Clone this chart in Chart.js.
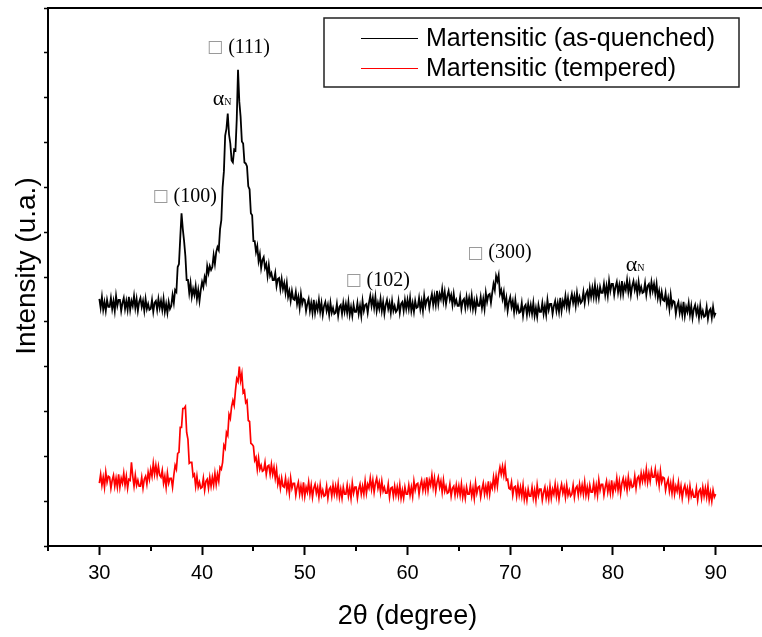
<!DOCTYPE html>
<html>
<head>
<meta charset="utf-8">
<script src="https://cdn.jsdelivr.net/npm/chart.js@4.4.0/dist/chart.umd.min.js"></script>
<style>
  html, body { margin: 0; padding: 0; background: #fff; overflow: hidden; }
  #wrap { width: 775px; height: 637px; position: relative; }
</style>
</head>
<body>
<div id="wrap"><canvas id="xrd" width="775" height="637"></canvas></div>
<script>
// Scan angles (2θ, degrees), one row per degree
const twoTheta = [
  30,30.125,30.25,30.375,30.5,30.625,30.75,30.875,
  31,31.125,31.25,31.375,31.5,31.625,31.75,31.875,
  32,32.125,32.25,32.375,32.5,32.625,32.75,32.875,
  33,33.125,33.25,33.375,33.5,33.625,33.75,33.875,
  34,34.125,34.25,34.375,34.5,34.625,34.75,34.875,
  35,35.125,35.25,35.375,35.5,35.625,35.75,35.875,
  36,36.125,36.25,36.375,36.5,36.625,36.75,36.875,
  37,37.125,37.25,37.375,37.5,37.625,37.75,37.875,
  38,38.125,38.25,38.375,38.5,38.625,38.75,38.875,
  39,39.125,39.25,39.375,39.5,39.625,39.75,39.875,
  40,40.125,40.25,40.375,40.5,40.625,40.75,40.875,
  41,41.125,41.25,41.375,41.5,41.625,41.75,41.875,
  42,42.125,42.25,42.375,42.5,42.625,42.75,42.875,
  43,43.125,43.25,43.375,43.5,43.625,43.75,43.875,
  44,44.125,44.25,44.375,44.5,44.625,44.75,44.875,
  45,45.125,45.25,45.375,45.5,45.625,45.75,45.875,
  46,46.125,46.25,46.375,46.5,46.625,46.75,46.875,
  47,47.125,47.25,47.375,47.5,47.625,47.75,47.875,
  48,48.125,48.25,48.375,48.5,48.625,48.75,48.875,
  49,49.125,49.25,49.375,49.5,49.625,49.75,49.875,
  50,50.125,50.25,50.375,50.5,50.625,50.75,50.875,
  51,51.125,51.25,51.375,51.5,51.625,51.75,51.875,
  52,52.125,52.25,52.375,52.5,52.625,52.75,52.875,
  53,53.125,53.25,53.375,53.5,53.625,53.75,53.875,
  54,54.125,54.25,54.375,54.5,54.625,54.75,54.875,
  55,55.125,55.25,55.375,55.5,55.625,55.75,55.875,
  56,56.125,56.25,56.375,56.5,56.625,56.75,56.875,
  57,57.125,57.25,57.375,57.5,57.625,57.75,57.875,
  58,58.125,58.25,58.375,58.5,58.625,58.75,58.875,
  59,59.125,59.25,59.375,59.5,59.625,59.75,59.875,
  60,60.125,60.25,60.375,60.5,60.625,60.75,60.875,
  61,61.125,61.25,61.375,61.5,61.625,61.75,61.875,
  62,62.125,62.25,62.375,62.5,62.625,62.75,62.875,
  63,63.125,63.25,63.375,63.5,63.625,63.75,63.875,
  64,64.125,64.25,64.375,64.5,64.625,64.75,64.875,
  65,65.125,65.25,65.375,65.5,65.625,65.75,65.875,
  66,66.125,66.25,66.375,66.5,66.625,66.75,66.875,
  67,67.125,67.25,67.375,67.5,67.625,67.75,67.875,
  68,68.125,68.25,68.375,68.5,68.625,68.75,68.875,
  69,69.125,69.25,69.375,69.5,69.625,69.75,69.875,
  70,70.125,70.25,70.375,70.5,70.625,70.75,70.875,
  71,71.125,71.25,71.375,71.5,71.625,71.75,71.875,
  72,72.125,72.25,72.375,72.5,72.625,72.75,72.875,
  73,73.125,73.25,73.375,73.5,73.625,73.75,73.875,
  74,74.125,74.25,74.375,74.5,74.625,74.75,74.875,
  75,75.125,75.25,75.375,75.5,75.625,75.75,75.875,
  76,76.125,76.25,76.375,76.5,76.625,76.75,76.875,
  77,77.125,77.25,77.375,77.5,77.625,77.75,77.875,
  78,78.125,78.25,78.375,78.5,78.625,78.75,78.875,
  79,79.125,79.25,79.375,79.5,79.625,79.75,79.875,
  80,80.125,80.25,80.375,80.5,80.625,80.75,80.875,
  81,81.125,81.25,81.375,81.5,81.625,81.75,81.875,
  82,82.125,82.25,82.375,82.5,82.625,82.75,82.875,
  83,83.125,83.25,83.375,83.5,83.625,83.75,83.875,
  84,84.125,84.25,84.375,84.5,84.625,84.75,84.875,
  85,85.125,85.25,85.375,85.5,85.625,85.75,85.875,
  86,86.125,86.25,86.375,86.5,86.625,86.75,86.875,
  87,87.125,87.25,87.375,87.5,87.625,87.75,87.875,
  88,88.125,88.25,88.375,88.5,88.625,88.75,88.875,
  89,89.125,89.25,89.375,89.5,89.625,89.75,89.875,
  90
];

// Intensity, as-quenched martensite (offset trace, arbitrary units)
const asQuenched = [
  248,239,250,237,245,236,247,240,
  240,249,238,246,236,251,241,247,
  247,236,244,249,238,246,237,250,
  237,246,241,251,239,248,236,245,
  249,240,246,236,248,238,243,237,
  238,247,235,244,246,237,248,239,
  246,237,248,235,243,234,245,238,
  241,252,244,257,255,280,283,309,
  334,318,306,291,267,267,254,264,
  250,258,252,261,248,257,246,257,
  265,260,270,265,281,274,281,277,
  280,292,283,295,300,297,318,327,
  360,376,412,419,434,413,404,387,
  385,398,397,428,478,446,431,406,
  404,385,384,381,361,358,334,332,
  306,306,295,301,286,293,279,287,
  290,279,283,271,282,271,274,267,
  267,274,261,268,269,258,268,258,
  264,254,264,250,256,246,256,248,
  247,255,243,250,239,253,243,248,
  247,236,243,248,236,244,234,247,
  234,243,237,247,235,244,232,241,
  245,236,242,232,244,234,239,233,
  234,243,231,240,242,233,244,235,
  243,234,245,232,240,231,242,235,
  235,244,233,241,231,246,236,242,
  243,234,244,251,241,249,239,250,
  236,244,238,248,236,245,233,242,
  247,238,244,234,246,236,241,235,
  237,246,234,243,245,236,247,238,
  247,238,249,236,244,235,246,239,
  240,249,238,246,236,251,241,247,
  249,239,247,253,242,251,242,256,
  243,253,248,258,246,255,243,251,
  256,247,252,242,253,243,247,241,
  241,250,238,246,248,239,250,241,
  249,240,251,238,246,237,248,241,
  241,250,239,248,238,254,245,252,
  253,244,254,263,257,271,266,272,
  253,257,248,255,241,249,236,245,
  250,240,246,235,247,236,241,234,
  235,244,231,240,242,232,243,234,
  242,233,244,231,239,230,242,235,
  235,244,233,241,232,247,237,243,
  243,233,241,246,236,244,235,249,
  236,246,241,251,240,249,238,247,
  253,244,251,241,254,244,250,244,
  246,255,244,253,256,247,259,250,
  259,250,262,249,258,249,260,254,
  254,263,252,261,251,266,256,263,
  263,252,260,265,254,262,253,266,
  253,262,257,267,255,264,252,261,
  266,257,263,253,265,255,260,254,
  255,264,252,261,263,254,265,256,
  263,253,263,249,256,246,255,247,
  246,254,242,249,238,252,241,246,
  245,233,241,245,234,241,232,245,
  231,240,235,244,232,241,229,238,
  242,233,239,229,241,231,236,230,
  231,240,228,236,238,229,240,231,
  234
];

// Intensity, tempered martensite (arbitrary units)
const tempered = [
  63,72,61,69,59,74,64,70,
  69,58,66,71,60,68,59,72,
  59,68,63,73,61,70,58,67,
  66,84,70,60,71,61,66,60,
  60,69,58,67,70,62,74,67,
  77,70,83,72,81,71,80,71,
  69,76,63,70,59,73,63,68,
  68,59,71,81,77,93,94,119,
  119,138,138,140,114,107,83,84,
  84,70,72,60,70,59,64,58,
  59,68,56,65,67,58,69,60,
  69,61,73,62,72,65,79,77,
  84,101,98,114,111,132,128,140,
  146,141,156,168,165,180,166,173,
  154,156,144,146,126,125,103,102,
  100,86,89,77,88,77,81,75,
  76,84,72,80,81,72,82,72,
  79,68,77,62,68,58,68,60,
  59,68,56,64,53,68,58,63,
  63,51,59,64,52,60,51,64,
  50,59,54,64,52,61,49,58,
  62,53,59,49,61,51,56,50,
  51,60,48,57,59,50,61,52,
  60,51,62,49,57,48,59,52,
  52,61,50,58,48,63,53,59,
  59,48,57,62,52,60,52,65,
  53,62,58,68,57,66,54,63,
  68,58,64,54,65,55,59,53,
  53,62,49,58,59,50,60,51,
  59,50,61,48,56,48,59,52,
  52,61,51,59,50,65,56,62,
  63,52,61,66,56,64,56,69,
  56,66,61,71,59,68,55,64,
  69,59,65,54,66,55,60,53,
  54,62,50,58,60,51,61,52,
  60,51,62,49,57,48,59,52,
  52,61,50,58,48,63,53,59,
  60,49,57,63,52,60,52,65,
  52,62,58,69,59,70,60,72,
  79,72,80,71,80,66,67,58,
  57,64,51,59,60,50,61,51,
  59,50,61,47,55,46,57,50,
  50,59,48,56,46,61,51,57,
  57,46,54,59,48,56,47,60,
  48,57,52,62,50,59,47,56,
  62,53,59,49,61,51,56,50,
  52,61,49,58,60,51,62,53,
  61,52,64,51,59,50,61,54,
  54,63,52,61,51,66,56,62,
  62,51,59,65,54,62,53,66,
  53,62,57,68,56,65,53,63,
  68,59,66,56,69,59,65,59,
  60,70,58,68,70,62,73,65,
  73,65,77,64,73,65,76,69,
  69,77,65,72,61,75,64,69,
  68,56,63,67,55,63,53,65,
  52,60,55,64,52,60,48,57,
  61,52,58,48,60,50,55,49,
  49,58,46,55,57,48,59,50,
  58,49,60,46,54,45,56,49,
  52
];

const seriesNames = ['Martensitic (as-quenched)', 'Martensitic (tempered)'];
const seriesColors = ['#000000', '#ff0000'];
const xTickLabels = [30, 40, 50, 60, 70, 80, 90];

// Reflection tags placed above their peaks
const peakTags = ['(111)', '(100)', '(102)', '(300)'];
const peakTagAngles = [43.55, 38.3, 57.1, 68.95];
const peakTagLevels = [500, 351, 266, 294];
// Nitrogen-expanded ferrite (αN) tags
const nitrideAngles = [41.95, 82.15];
const nitrideLevels = [448, 282];

const SANS = '"Liberation Sans", Arial, Helvetica, sans-serif';
const SERIF = '"Liberation Serif", "Times New Roman", serif';

function toPoints(xs, ys) {
  return xs.map((x, i) => ({ x: x, y: ys[i] }));
}

const overlay = {
  id: 'overlay',
  afterDraw(chart) {
    const ctx = chart.ctx;
    const xs = chart.scales.x;
    const ys = chart.scales.y;
    ctx.save();

    // short minor ticks on the 2θ axis
    ctx.strokeStyle = '#000';
    ctx.lineWidth = 2;
    for (let v = 25; v <= 95; v += 10) {
      const px = Math.round(xs.getPixelForValue(v));
      ctx.beginPath();
      ctx.moveTo(px, xs.top);
      ctx.lineTo(px, xs.top + 5);
      ctx.stroke();
    }

    // vertical axis title
    ctx.save();
    ctx.translate(27, 266);
    ctx.rotate(-Math.PI / 2);
    ctx.font = '28px ' + SANS;
    ctx.fillStyle = '#000';
    ctx.textAlign = 'center';
    ctx.textBaseline = 'middle';
    ctx.fillText('Intensity (u.a.)', 0, 0);
    ctx.restore();

    // reflection tags
    ctx.textBaseline = 'middle';
    peakTags.forEach((tag, i) => {
      const cx = xs.getPixelForValue(peakTagAngles[i]);
      const cy = ys.getPixelForValue(peakTagLevels[i]);
      ctx.font = '17px "DejaVu Sans", sans-serif';
      const boxW = ctx.measureText('□').width;
      ctx.font = '20px ' + SERIF;
      const rest = ' ' + tag;
      const restW = ctx.measureText(rest).width;
      const x0 = cx - (boxW + restW) / 2;
      ctx.font = '17px "DejaVu Sans", sans-serif';
      ctx.fillStyle = '#9a9a9a';
      ctx.textAlign = 'left';
      ctx.fillText('□', x0, cy);
      ctx.font = '20px ' + SERIF;
      ctx.fillStyle = '#000';
      ctx.fillText(rest, x0 + boxW, cy);
    });

    // αN tags
    nitrideAngles.forEach((a, i) => {
      const cx = xs.getPixelForValue(a);
      const cy = ys.getPixelForValue(nitrideLevels[i]);
      ctx.font = '22px ' + SERIF;
      const aw = ctx.measureText('α').width;
      ctx.font = '10px ' + SERIF;
      const nw = ctx.measureText('N').width;
      const x0 = cx - (aw + nw) / 2;
      ctx.fillStyle = '#000';
      ctx.textAlign = 'left';
      ctx.font = '22px ' + SERIF;
      ctx.fillText('α', x0, cy);
      ctx.font = '10px ' + SERIF;
      ctx.fillText('N', x0 + aw, cy + 3);
    });

    // legend box
    const bx = 324, by = 18, bw = 415, bh = 69;
    ctx.fillStyle = '#fff';
    ctx.fillRect(bx, by, bw, bh);
    ctx.strokeStyle = '#222';
    ctx.lineWidth = 1.5;
    ctx.strokeRect(bx, by, bw, bh);
    chart.data.datasets.forEach((ds, i) => {
      const ly = by + 20 + i * 30;
      ctx.strokeStyle = ds.borderColor;
      ctx.lineWidth = 1;
      ctx.beginPath();
      ctx.moveTo(361, ly + 0.5);
      ctx.lineTo(418, ly + 0.5);
      ctx.stroke();
      ctx.fillStyle = '#000';
      ctx.font = '25px ' + SANS;
      ctx.textAlign = 'left';
      ctx.textBaseline = 'middle';
      ctx.fillText(ds.label, 426, ly + 1);
    });
    ctx.restore();
  }
};

new Chart(document.getElementById('xrd'), {
  type: 'line',
  data: {
    datasets: [
      {
        label: seriesNames[0],
        data: toPoints(twoTheta, asQuenched),
        borderColor: seriesColors[0],
        borderWidth: 1.8,
        pointRadius: 0,
        tension: 0,
        fill: false
      },
      {
        label: seriesNames[1],
        data: toPoints(twoTheta, tempered),
        borderColor: seriesColors[1],
        borderWidth: 1.7,
        pointRadius: 0,
        tension: 0,
        fill: false
      }
    ]
  },
  options: {
    responsive: false,
    animation: false,
    devicePixelRatio: 1,
    layout: { padding: { left: 0, right: 8, top: 8, bottom: 0 } },
    plugins: {
      legend: { display: false },
      tooltip: { enabled: false }
    },
    scales: {
      x: {
        type: 'linear',
        position: 'bottom',
        min: 25,
        max: 95,
        ticks: {
          stepSize: 5,
          autoSkip: false,
          maxRotation: 0,
          padding: 6,
          color: '#000',
          font: { family: SANS, size: 20 },
          callback: (v) => xTickLabels.includes(v) ? String(v) : ''
        },
        grid: {
          drawOnChartArea: false,
          drawTicks: true,
          tickLength: 9,
          tickWidth: 2,
          tickColor: (c) => (c.tick && c.tick.value % 10 === 0) ? '#000' : 'rgba(0,0,0,0)'
        },
        border: { display: true, color: '#000', width: 2 },
        title: {
          display: true,
          text: '2θ (degree)',
          color: '#000',
          font: { family: SANS, size: 27 },
          padding: { top: 0, bottom: 4 }
        },
        afterFit: (s) => { s.height = 91; }
      },
      xTop: {
        type: 'linear',
        position: 'top',
        min: 25,
        max: 95,
        ticks: { display: false },
        grid: { drawOnChartArea: false, drawTicks: false },
        border: { display: true, color: '#000', width: 2 },
        afterFit: (s) => { s.height = 0; }
      },
      y: {
        type: 'linear',
        position: 'left',
        min: 0,
        max: 540,
        ticks: { stepSize: 45, display: false },
        grid: {
          drawOnChartArea: false,
          drawTicks: true,
          tickLength: 4,
          tickWidth: 1.5,
          tickColor: '#000'
        },
        border: { display: true, color: '#000', width: 2 },
        title: { display: false },
        afterFit: (s) => { s.width = 48; }
      }
    }
  },
  plugins: [overlay]
});
</script>
</body>
</html>
